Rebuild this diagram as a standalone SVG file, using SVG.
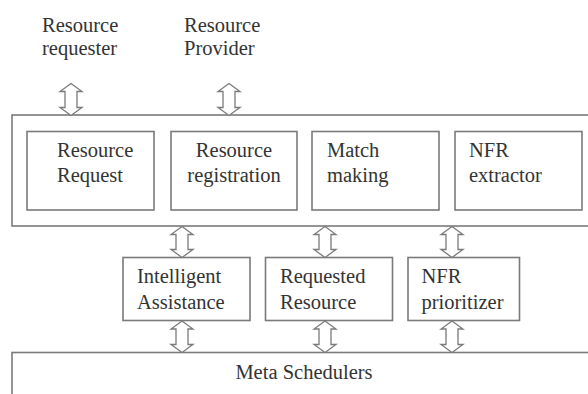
<svg xmlns="http://www.w3.org/2000/svg" width="588" height="394" viewBox="0 0 588 394">
<style>
.box{fill:#fff;stroke:#7a7a7a;stroke-width:1.6}
.arr{fill:#fff;stroke:#7a7a7a;stroke-width:1.3;stroke-linejoin:miter}
text{font-family:"Liberation Serif","Times New Roman",serif;font-size:20.5px;fill:#333}
</style>
<defs>
<path id="dbl" d="M0,0 L11,8 L6,8 L6,-8 L11,-8 L0,0 Z"/>
</defs>
<rect width="588" height="394" fill="#fff"/>
<text x="42" y="32">Resource</text>
<text x="42" y="55">requester</text>
<text x="184" y="32">Resource</text>
<text x="184" y="55">Provider</text>
<g id="platform">
<rect class="box" x="12" y="115" width="600" height="111"/>
</g>
<g id="resource-request">
<rect class="box" x="27" y="131.5" width="127" height="78.5"/>
<text x="57" y="157">Resource</text>
<text x="57" y="182">Request</text>
</g>
<g id="resource-registration">
<rect class="box" x="171" y="131.5" width="126" height="78.5"/>
<text x="234" y="157" text-anchor="middle">Resource</text>
<text x="234" y="182" text-anchor="middle">registration</text>
</g>
<g id="match-making">
<rect class="box" x="312" y="131.5" width="127" height="78.5"/>
<text x="327" y="157">Match</text>
<text x="327" y="182">making</text>
</g>
<g id="nfr-extractor">
<rect class="box" x="455" y="131.5" width="127" height="78.5"/>
<text x="469" y="157">NFR</text>
<text x="469" y="182">extractor</text>
</g>
<g id="intelligent-assistance">
<rect class="box" x="123" y="257.5" width="127" height="63"/>
<text x="137" y="283">Intelligent</text>
<text x="137" y="309">Assistance</text>
</g>
<g id="requested-resource">
<rect class="box" x="265.5" y="257.5" width="127" height="63"/>
<text x="280" y="283">Requested</text>
<text x="280" y="309">Resource</text>
</g>
<g id="nfr-prioritizer">
<rect class="box" x="408" y="257.5" width="111.5" height="63"/>
<text x="421.5" y="283">NFR</text>
<text x="421.5" y="309">prioritizer</text>
</g>
<g id="meta-schedulers">
<rect class="box" x="12" y="352.5" width="600" height="60"/>
<text x="304" y="379" text-anchor="middle">Meta Schedulers</text>
</g>
<g id="connectors">
<path class="arr" d="M71,83.5 L82,91.5 L77,91.5 L77,107.5 L82,107.5 L71,115.5 L60,107.5 L65,107.5 L65,91.5 L60,91.5 Z"/>
<path class="arr" d="M229,83.5 L240,91.5 L235,91.5 L235,107.5 L240,107.5 L229,115.5 L218,107.5 L223,107.5 L223,91.5 L218,91.5 Z"/>
<path class="arr" d="M182,226.5 L193,234.5 L188,234.5 L188,249.5 L193,249.5 L182,257.5 L171,249.5 L176,249.5 L176,234.5 L171,234.5 Z"/>
<path class="arr" d="M325,226.5 L336,234.5 L331,234.5 L331,249.5 L336,249.5 L325,257.5 L314,249.5 L319,249.5 L319,234.5 L314,234.5 Z"/>
<path class="arr" d="M452,226.5 L463,234.5 L458,234.5 L458,249.5 L463,249.5 L452,257.5 L441,249.5 L446,249.5 L446,234.5 L441,234.5 Z"/>
<path class="arr" d="M182,321 L193,329 L188,329 L188,344.5 L193,344.5 L182,352.5 L171,344.5 L176,344.5 L176,329 L171,329 Z"/>
<path class="arr" d="M325,321 L336,329 L331,329 L331,344.5 L336,344.5 L325,352.5 L314,344.5 L319,344.5 L319,329 L314,329 Z"/>
<path class="arr" d="M452,321 L463,329 L458,329 L458,344.5 L463,344.5 L452,352.5 L441,344.5 L446,344.5 L446,329 L441,329 Z"/>
</g>
</svg>
